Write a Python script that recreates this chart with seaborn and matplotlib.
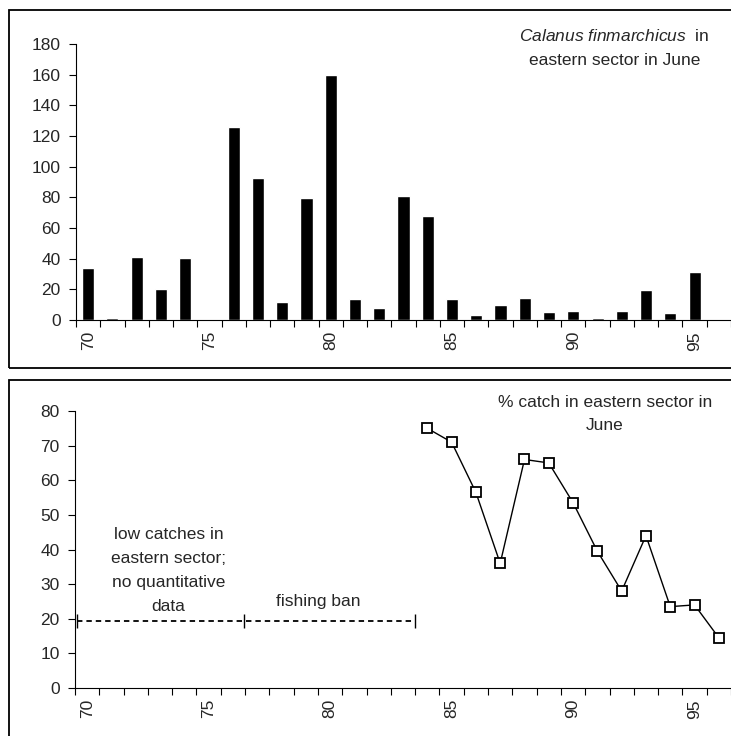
import numpy as np
import pandas as pd
import matplotlib
matplotlib.use("Agg")
import matplotlib.pyplot as plt
import seaborn as sns
from matplotlib.patches import Rectangle

# Calanus finmarchicus, eastern sector, June (top panel)
years = list(range(70, 97))
calanus = [34, 1.5, 41, 20.5, 40.5, 0, 126, 92.5, 12, 79.5, 160, 13.5, 8, 81, 68,
           13.5, 3.5, 10, 14.5, 5, 6, 1.5, 6, 19.5, 4.5, 31, 0]

# % catch in eastern sector in June (bottom panel)
catch_years = list(range(84, 97))
catch_pct = [75, 71, 56.5, 36, 66, 65, 53.5, 39.5, 28, 44, 23.5, 24, 14.5]

# periods without data / fishing ban (bottom panel)
period_edges = [69.6, 76.45, 83.5]
period_level = 19.4

label_years = [70, 75, 80, 85, 90, 95]

sns.set_style("ticks")
plt.rcParams["font.family"] = ["Liberation Sans", "DejaVu Sans"]
plt.rcParams["font.size"] = 12.5
plt.rcParams["mathtext.fontset"] = "custom"
plt.rcParams["mathtext.rm"] = "Liberation Sans"
plt.rcParams["mathtext.it"] = "Liberation Sans:italic"

FS = 12.5

fig = plt.figure(figsize=(7.31, 7.36), dpi=100)

# panel frames
for y0, y1 in [(10, 368), (380, 740)]:
    fig.patches.append(Rectangle((9 / 731, 1 - y1 / 736), 0.99, (y1 - y0) / 736,
                                 transform=fig.transFigure, fill=False,
                                 edgecolor="black", linewidth=1.3))


def style_axis(ax):
    ax.set_xticklabels([])
    ax.tick_params(axis="x", which="major", length=5, width=0.8, color="black")
    ax.tick_params(axis="x", which="minor", length=0, pad=8, labelsize=FS)
    ax.tick_params(axis="y", length=5, width=0.8, color="black", pad=6, labelsize=FS)
    ax.set_xlabel("")
    ax.set_ylabel("")
    sns.despine(ax=ax)
    for s in ["left", "bottom"]:
        ax.spines[s].set_linewidth(0.8)
        ax.spines[s].set_color("black")


# ---- top panel: bars
ax1 = fig.add_axes([76 / 731, 1 - 320 / 736, 655 / 731, 276 / 736])
df_top = pd.DataFrame({"year": [str(y) for y in years], "value": calanus})
sns.barplot(data=df_top, x="year", y="value", color="black", saturation=1,
            width=0.5, order=df_top["year"], ax=ax1)
ax1.set_xlim(-0.5, len(years) - 0.5)
ax1.set_ylim(0, 180)
ax1.set_yticks(range(0, 181, 20))
ax1.set_xticks(np.arange(-0.5, len(years), 1.0))
ax1.set_xticks([years.index(y) for y in label_years], minor=True)
ax1.set_xticklabels([str(y) for y in label_years], minor=True, rotation=90)
style_axis(ax1)
ax1.text(21.7, 185.5, r"$\it{Calanus\ finmarchicus}$  in", ha="center", va="center",
         fontsize=FS, clip_on=False)
ax1.text(21.7, 169.5, "eastern sector in June", ha="center", va="center",
         fontsize=FS, clip_on=False)

# ---- bottom panel: line
ax2 = fig.add_axes([75 / 731, 1 - 688 / 736, 656 / 731, 277 / 736])
df_bot = pd.DataFrame({"year": catch_years, "pct": catch_pct})
sns.lineplot(data=df_bot, x="year", y="pct", color="black", linewidth=1,
             marker="s", markersize=7.5, markerfacecolor="white",
             markeredgecolor="black", markeredgewidth=1.3, ax=ax2)
ax2.plot(period_edges, [period_level] * len(period_edges), color="black",
         linestyle=(0, (3, 2.2)), linewidth=1.3)
ax2.plot(period_edges, [period_level] * len(period_edges), linestyle="none",
         marker="|", markersize=10, color="black", markeredgewidth=1)
ax2.set_xlim(69.5, 96.5)
ax2.set_ylim(0, 80)
ax2.set_yticks(range(0, 81, 10))
ax2.set_xticks(np.arange(69.5, 97, 1.0))
ax2.set_xticks(label_years, minor=True)
ax2.set_xticklabels([str(y) for y in label_years], minor=True, rotation=90)
style_axis(ax2)
ax2.text(91.3, 79.1, "% catch in eastern sector in\nJune", ha="center",
         va="center", fontsize=FS, linespacing=1.65, clip_on=False)
ax2.text(73.35, 33.8, "low catches in\neastern sector;\nno quantitative\ndata",
         ha="center", va="center", fontsize=FS, linespacing=1.75)
ax2.text(79.5, 25.1, "fishing ban", ha="center", va="center", fontsize=FS)

fig.savefig("out.png", dpi=100)
